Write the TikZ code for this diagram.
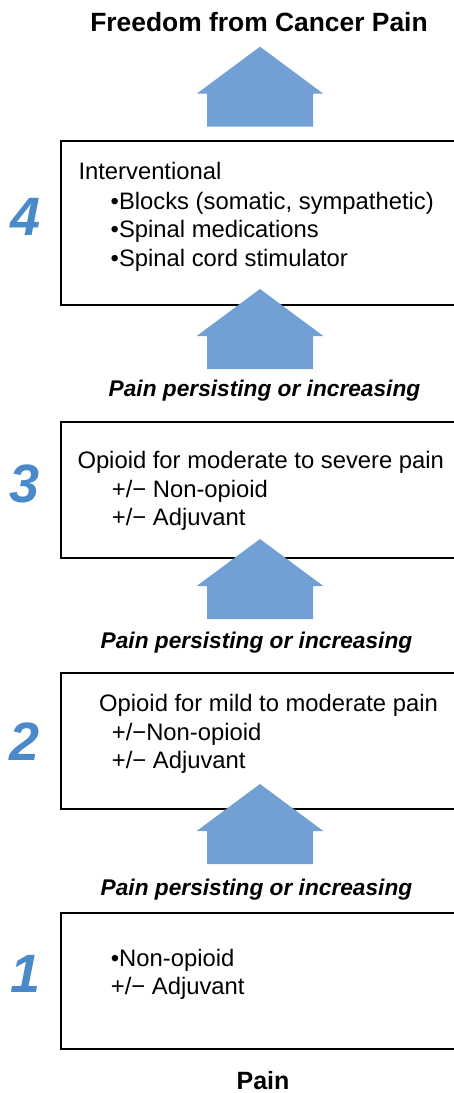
\documentclass[tikz,border=0pt]{standalone}
\usepackage{fontspec}
\setmainfont{Liberation Sans}
\definecolor{arrowblue}{HTML}{72A0D4}
\definecolor{numblue}{HTML}{4A8ACB}
\newcommand\bodytxt{\fontsize{23.8}{28}\selectfont}
\newcommand\titletxt{\fontsize{26.4}{30}\selectfont\bfseries}
\newcommand\steptxt{\fontsize{22.7}{27}\selectfont\bfseries\itshape}
\newcommand\numtxt{\fontsize{54}{60}\selectfont\bfseries\itshape}
\tikzset{
  stepbox/.style={draw=black, line width=2pt, rectangle, anchor=north west, inner sep=0pt, minimum width=420pt},
  line/.style={anchor=base west, inner sep=0pt, font=\bodytxt},
  steplabel/.style={anchor=base, inner sep=0pt, font=\steptxt},
  num/.style={anchor=base, inner sep=0pt, font=\numtxt, text=numblue},
  heading/.style={anchor=base, inner sep=0pt, font=\titletxt},
  uparrow/.pic={\fill[arrowblue] (0,0) -- (63.3,47) -- (53,47) -- (53,80) -- (-53,80) -- (-53,47) -- (-63.3,47) -- cycle;}
}
\begin{document}
\begin{tikzpicture}[x=1pt,y=-1pt]
\useasboundingbox (0,0) rectangle (454,1093);
% title
\node[heading] (title) at (259,31) {Freedom from Cancer Pain};
% boxes
\node[stepbox, minimum height=164pt] (box4) at (60,140) {};
\node[stepbox, minimum height=136pt] (box3) at (60,421) {};
\node[stepbox, minimum height=136pt] (box2) at (60,672) {};
\node[stepbox, minimum height=136pt] (box1) at (60,912) {};
% numbers
\node[num] (n4) at (26,235) {4};
\node[num] (n3) at (25,502) {3};
\node[num] (n2) at (25,760) {2};
\node[num] (n1) at (26,992) {1};
% box 4 text
\node[line] (t41) at (78.3,179) {Interventional};
\node[line] (t42) at (110.5,209) {•Blocks (somatic, sympathetic)};
\node[line] (t43) at (110.5,237) {•Spinal medications};
\node[line] (t44) at (110.5,266) {•Spinal cord stimulator};
% box 3 text
\node[line] (t31) at (77.3,468) {Opioid for moderate to severe pain};
\node[line] (t32) at (111.7,497) {+/− Non-opioid};
\node[line] (t33) at (111.7,525) {+/− Adjuvant};
% box 2 text
\node[line] (t21) at (99,711) {Opioid for mild to moderate pain};
\node[line] (t22) at (111.7,740) {+/−Non-opioid};
\node[line] (t23) at (111.7,768) {+/− Adjuvant};
% box 1 text
\node[line] (t11) at (110.7,966) {•Non-opioid};
\node[line] (t12) at (110.7,994) {+/− Adjuvant};
% arrows
\pic (a4) at (260,46.7) {uparrow};
\pic (a3) at (260,289) {uparrow};
\pic (a2) at (260,539) {uparrow};
\pic (a1) at (260,784) {uparrow};
% step labels
\node[steplabel] (p3) at (264.5,396) {Pain persisting or increasing};
\node[steplabel] (p2) at (256.5,648) {Pain persisting or increasing};
\node[steplabel] (p1) at (256.5,895) {Pain persisting or increasing};
% bottom
\node[heading, font=\fontsize{25}{30}\selectfont\bfseries] (pain) at (263,1089) {Pain};
\end{tikzpicture}
\end{document}
